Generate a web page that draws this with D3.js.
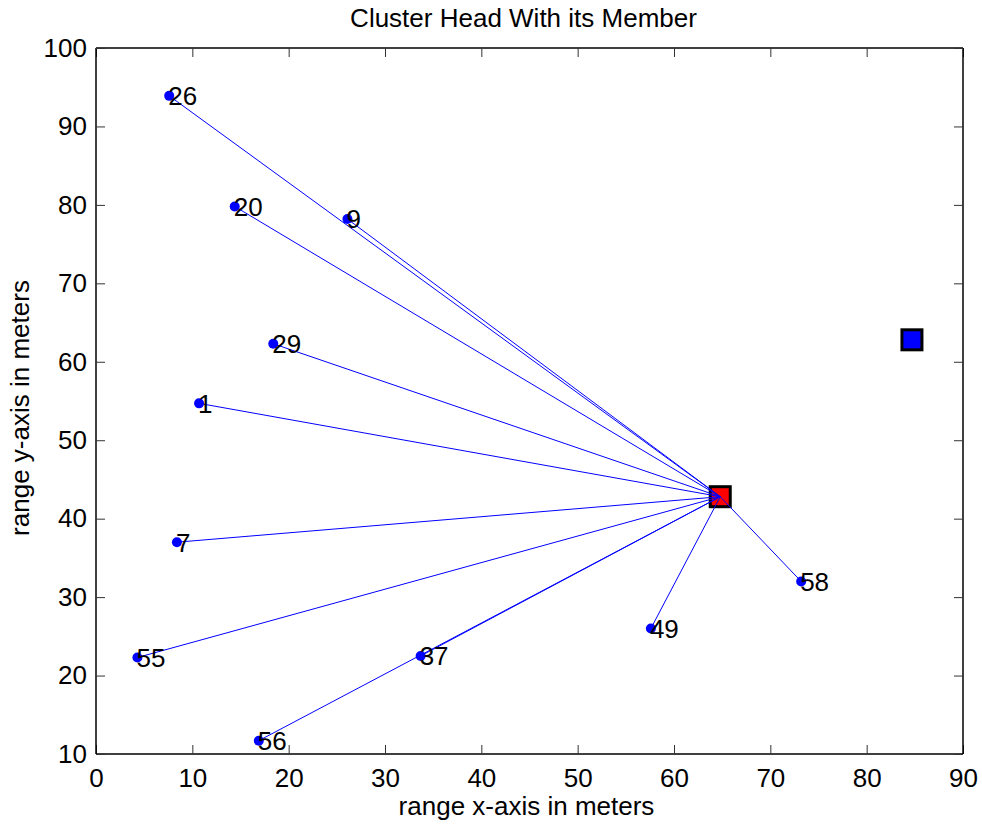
<!DOCTYPE html>
<html><head><meta charset="utf-8">
<script src="https://cdn.jsdelivr.net/npm/d3@7"></script>
<style>
html,body{margin:0;padding:0;background:#fff;}
svg text{font-family:"Liberation Sans",Arial,sans-serif;fill:#000;}
</style></head>
<body>
<svg id="chart" width="982" height="830"></svg>
<script>
// Data
const memberIds = [26, 20, 9, 29, 1, 7, 55, 56, 37, 49, 58];
const memberX   = [7.6, 14.4, 26.1, 18.4, 10.7, 8.4, 4.3, 16.9, 33.7, 57.6, 73.2];
const memberY   = [93.9, 79.8, 78.2, 62.3, 54.7, 37.0, 22.3, 11.7, 22.5, 26.0, 32.0];
const clusterHead = [64.8, 42.8];
const otherHead = [84.7, 62.8];
const xTicks = [0,10,20,30,40,50,60,70,80,90];
const yTicks = [10,20,30,40,50,60,70,80,90,100];
const titleText = "Cluster Head With its Member";
const xLabel = "range x-axis in meters";
const yLabel = "range y-axis in meters";

const svg = d3.select("#chart");
const m = {left:96, right:963, top:48, bottom:754};
const x = d3.scaleLinear().domain([0,90]).range([m.left, m.right]);
const y = d3.scaleLinear().domain([10,100]).range([m.bottom, m.top]);
const FS = "26px";

const members = memberIds.map((id,i)=>({id, x:memberX[i], y:memberY[i]}));

// axes
const tl = 9;
const axB = svg.append("g").attr("transform",`translate(0,${m.bottom})`)
  .call(d3.axisBottom(x).tickValues(xTicks).tickSize(-tl).tickPadding(15).tickFormat(d3.format("d")));
const axT = svg.append("g").attr("transform",`translate(0,${m.top})`)
  .call(d3.axisTop(x).tickValues(xTicks).tickSize(-tl).tickFormat(""));
const axL = svg.append("g").attr("transform",`translate(${m.left},0)`)
  .call(d3.axisLeft(y).tickValues(yTicks).tickSize(-tl).tickPadding(9).tickFormat(d3.format("d")));
const axR = svg.append("g").attr("transform",`translate(${m.right},0)`)
  .call(d3.axisRight(y).tickValues(yTicks).tickSize(-tl).tickFormat(""));
[axB,axT,axL,axR].forEach(a=>{
  a.selectAll(".domain").attr("stroke","#000").attr("stroke-width",1.5);
  a.selectAll(".tick line").attr("stroke","#333").attr("stroke-width",1);
  a.selectAll("text").attr("font-size",FS).attr("font-family","Liberation Sans, Arial, sans-serif").attr("fill","#000");
});
axB.selectAll(".domain").attr("d",`M${m.left},0H${m.right}`);
axT.selectAll(".domain").attr("d",`M${m.left},0H${m.right}`);
axL.selectAll(".domain").attr("d",`M0,${m.top}V${m.bottom}`);
axR.selectAll(".domain").attr("d",`M0,${m.top}V${m.bottom}`);

// squares (drawn beneath the lines)
const sq = 20;
svg.append("rect").attr("x", x(clusterHead[0])-sq/2).attr("y", y(clusterHead[1])-sq/2)
  .attr("width",sq).attr("height",sq).attr("fill","#ff0000").attr("stroke","#000").attr("stroke-width",3);
svg.append("rect").attr("x", x(otherHead[0])-sq/2).attr("y", y(otherHead[1])-sq/2)
  .attr("width",sq).attr("height",sq).attr("fill","#0000ff").attr("stroke","#000").attr("stroke-width",3);

// lines
svg.append("g").selectAll("line").data(members).join("line")
  .attr("x1", d=>x(d.x)).attr("y1", d=>y(d.y))
  .attr("x2", x(clusterHead[0])).attr("y2", y(clusterHead[1]))
  .attr("stroke","#0000ff").attr("stroke-width",1);

// dots
svg.append("g").selectAll("circle").data(members).join("circle")
  .attr("cx", d=>x(d.x)).attr("cy", d=>y(d.y)).attr("r",5)
  .attr("fill","#0000ff");

// labels
svg.append("g").selectAll("text").data(members).join("text")
  .attr("x", d=>x(d.x)-1).attr("y", d=>y(d.y))
  .attr("dy","0.36em")
  .attr("font-size",FS)
  .text(d=>d.id);

svg.append("text").attr("x",(m.left+m.right)/2-6).attr("y",27).attr("text-anchor","middle")
  .attr("font-size",FS).text(titleText);
svg.append("text").attr("x",(m.left+m.right)/2-3).attr("y",815).attr("text-anchor","middle")
  .attr("font-size",FS).text(xLabel);
svg.append("text").attr("transform",`translate(29,${(m.top+m.bottom)/2+7}) rotate(-90)`).attr("text-anchor","middle")
  .attr("font-size",FS).text(yLabel);
</script>
</body></html>
